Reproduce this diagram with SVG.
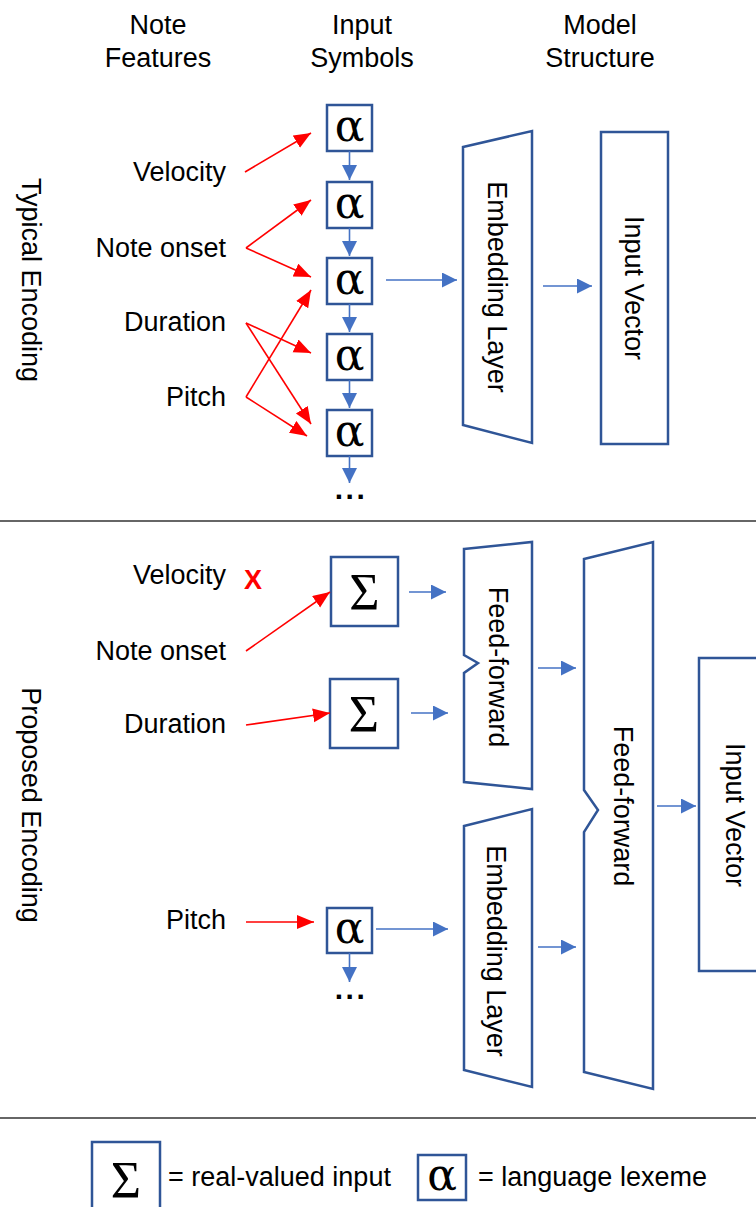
<svg xmlns="http://www.w3.org/2000/svg" width="756" height="1207" viewBox="0 0 756 1207">
  <style>
    .lbl { font-family: "Liberation Sans", Arial, sans-serif; font-size: 27px; fill: #000; }
    .mid { text-anchor: middle; }
    .end { text-anchor: end; }
    .box { fill: #fff; stroke: #2F5597; stroke-width: 2.5; }
    .shape { fill: #fff; stroke: #2F5597; stroke-width: 2.5; stroke-linejoin: miter; }
    .sym { font-family: "Liberation Serif", "Times New Roman", serif; text-anchor: middle; fill: #000; }
    .alpha { font-family: "DejaVu Serif", "Liberation Serif", serif; font-size: 44px; }
    .sigma { font-size: 52px; }
    .blue { stroke: #4472C4; stroke-width: 1.6; fill: none; marker-end: url(#headBlue); }
    .red { stroke: #FF0000; stroke-width: 1.6; fill: none; marker-end: url(#headRed); }
    .rule { stroke: #333; stroke-width: 1.6; }
    .dots { font-family: "Liberation Sans", Arial, sans-serif; font-size: 30px; font-weight: bold; letter-spacing: 2.5px; text-anchor: middle; }
  </style>
  <defs>
    <marker id="headBlue" markerUnits="userSpaceOnUse" markerWidth="16" markerHeight="16" refX="15" refY="7.5" orient="auto">
      <path d="M0,0 L15,7.5 L0,15 Z" fill="#4472C4"/>
    </marker>
    <marker id="headRed" markerUnits="userSpaceOnUse" markerWidth="18" markerHeight="16" refX="17" refY="7" orient="auto">
      <path d="M0,0 L17,7 L0,14 Z" fill="#FF0000"/>
    </marker>
  </defs>

  <!-- column headers -->
  <g id="headers">
    <text class="lbl mid" x="158" y="34">Note</text>
    <text class="lbl mid" x="158" y="67">Features</text>
    <text class="lbl mid" x="362" y="34">Input</text>
    <text class="lbl mid" x="362" y="67">Symbols</text>
    <text class="lbl mid" x="600" y="34">Model</text>
    <text class="lbl mid" x="600" y="67">Structure</text>
  </g>

  <!-- section titles -->
  <g id="section-typical">
    <text class="lbl mid" transform="translate(31,280) rotate(90)" dy="0.35em">Typical Encoding</text>
  </g>
  <g id="section-proposed">
    <text class="lbl mid" transform="translate(31,805) rotate(90)" dy="0.35em">Proposed Encoding</text>
  </g>

  <!-- section separators -->
  <line class="rule" x1="0" y1="521" x2="756" y2="521"/>
  <line class="rule" x1="0" y1="1118" x2="756" y2="1118"/>

  <!-- feature labels, typical -->
  <g id="feat-typical">
    <text class="lbl end" x="226" y="181">Velocity</text>
    <text class="lbl end" x="226" y="257">Note onset</text>
    <text class="lbl end" x="226" y="331">Duration</text>
    <text class="lbl end" x="226" y="406">Pitch</text>
  </g>

  <!-- feature labels, proposed -->
  <g id="feat-proposed">
    <text class="lbl end" x="226" y="584">Velocity</text>
    <text x="253" y="589" font-family="Liberation Sans, Arial, sans-serif" font-size="27" font-weight="bold" fill="#FF0000" text-anchor="middle">X</text>
    <text class="lbl end" x="226" y="660">Note onset</text>
    <text class="lbl end" x="226" y="733">Duration</text>
    <text class="lbl end" x="226" y="929">Pitch</text>
  </g>

  <!-- lexeme tokens, typical -->
  <g id="tok1"><rect class="box" x="327" y="105" width="45" height="46"/><text class="sym alpha" x="349.5" y="141">α</text></g>
  <g id="tok2"><rect class="box" x="327" y="182" width="45" height="46"/><text class="sym alpha" x="349.5" y="218">α</text></g>
  <g id="tok3"><rect class="box" x="327" y="258" width="45" height="46"/><text class="sym alpha" x="349.5" y="294">α</text></g>
  <g id="tok4"><rect class="box" x="327" y="334" width="45" height="46"/><text class="sym alpha" x="349.5" y="370">α</text></g>
  <g id="tok5"><rect class="box" x="327" y="410" width="45" height="46"/><text class="sym alpha" x="349.5" y="446">α</text></g>
  <text class="dots" x="351" y="499">...</text>

  <!-- typical model -->
  <g id="embed1">
    <polygon class="shape" points="463,147 532,131 532,443 463,425"/>
    <text class="lbl mid" transform="translate(497,287) rotate(90)" dy="0.35em">Embedding Layer</text>
  </g>
  <g id="vec1">
    <rect class="box" x="601" y="132" width="67" height="312"/>
    <text class="lbl mid" transform="translate(634,288) rotate(90)" dy="0.35em">Input Vector</text>
  </g>

  <!-- proposed inputs -->
  <g id="real1"><rect class="box" x="331" y="557" width="67" height="69"/><text class="sym sigma" x="364.5" y="610">Σ</text></g>
  <g id="real2"><rect class="box" x="330" y="679" width="68" height="69"/><text class="sym sigma" x="364" y="732">Σ</text></g>
  <g id="tok6"><rect class="box" x="327" y="908" width="45" height="45"/><text class="sym alpha" x="349.5" y="943">α</text></g>
  <text class="dots" x="351" y="999">...</text>

  <!-- proposed model -->
  <g id="ff1">
    <polygon class="shape" points="464,549 532,542 532,789 464,782 464,673 478,663 464,655"/>
    <text class="lbl mid" transform="translate(498,667) rotate(90)" dy="0.35em">Feed-forward</text>
  </g>
  <g id="embed2">
    <polygon class="shape" points="464,826 532,809 532,1087 464,1070"/>
    <text class="lbl mid" transform="translate(496,951) rotate(90)" dy="0.35em">Embedding Layer</text>
  </g>
  <g id="ff2">
    <polygon class="shape" points="584,559 653,542 653,1089 584,1072 584,832 598,810 584,790"/>
    <text class="lbl mid" transform="translate(623,806) rotate(90)" dy="0.35em">Feed-forward</text>
  </g>
  <g id="vec2">
    <rect class="box" x="699" y="658" width="80" height="313"/>
    <text class="lbl mid" transform="translate(735,815) rotate(90)" dy="0.35em">Input Vector</text>
  </g>

  <!-- connectors -->
  <g id="connectors">
    <!-- feature to token, typical -->
    <line class="red" x1="245" y1="172" x2="311" y2="133"/>
    <line class="red" x1="246" y1="248" x2="311" y2="200"/>
    <line class="red" x1="246" y1="248" x2="311" y2="277"/>
    <line class="red" x1="246" y1="323" x2="311" y2="353"/>
    <line class="red" x1="246" y1="323" x2="311" y2="424"/>
    <line class="red" x1="246" y1="397" x2="311" y2="290"/>
    <line class="red" x1="246" y1="397" x2="307" y2="436"/>
    <!-- token chain -->
    <line class="blue" x1="349.5" y1="151" x2="349.5" y2="180"/>
    <line class="blue" x1="349.5" y1="228" x2="349.5" y2="256"/>
    <line class="blue" x1="349.5" y1="304" x2="349.5" y2="332"/>
    <line class="blue" x1="349.5" y1="380" x2="349.5" y2="408"/>
    <line class="blue" x1="349.5" y1="456" x2="349.5" y2="483"/>
    <!-- typical model flow -->
    <line class="blue" x1="386" y1="280" x2="457" y2="280"/>
    <line class="blue" x1="543" y1="286" x2="592" y2="286"/>
    <!-- feature to input, proposed -->
    <line class="red" x1="246" y1="651" x2="330" y2="592"/>
    <line class="red" x1="246" y1="725" x2="330" y2="713"/>
    <line class="red" x1="246" y1="922" x2="314" y2="922"/>
    <!-- proposed model flow -->
    <line class="blue" x1="409" y1="592" x2="446" y2="592"/>
    <line class="blue" x1="411" y1="713" x2="448" y2="713"/>
    <line class="blue" x1="376" y1="929" x2="448" y2="929"/>
    <line class="blue" x1="349.5" y1="953" x2="349.5" y2="982"/>
    <line class="blue" x1="538" y1="668" x2="576" y2="668"/>
    <line class="blue" x1="538" y1="947" x2="576" y2="947"/>
    <line class="blue" x1="657" y1="806" x2="696" y2="806"/>
  </g>

  <!-- legend -->
  <g id="legend-real">
    <rect class="box" x="92" y="1142" width="68" height="80"/>
    <text class="sym sigma" x="126" y="1198">Σ</text>
    <text class="lbl" x="168" y="1186">= real-valued input</text>
  </g>
  <g id="legend-lexeme">
    <rect class="box" x="418" y="1155" width="48" height="45"/>
    <text class="sym alpha" x="442" y="1190">α</text>
    <text class="lbl" x="478" y="1186">= language lexeme</text>
  </g>
</svg>
